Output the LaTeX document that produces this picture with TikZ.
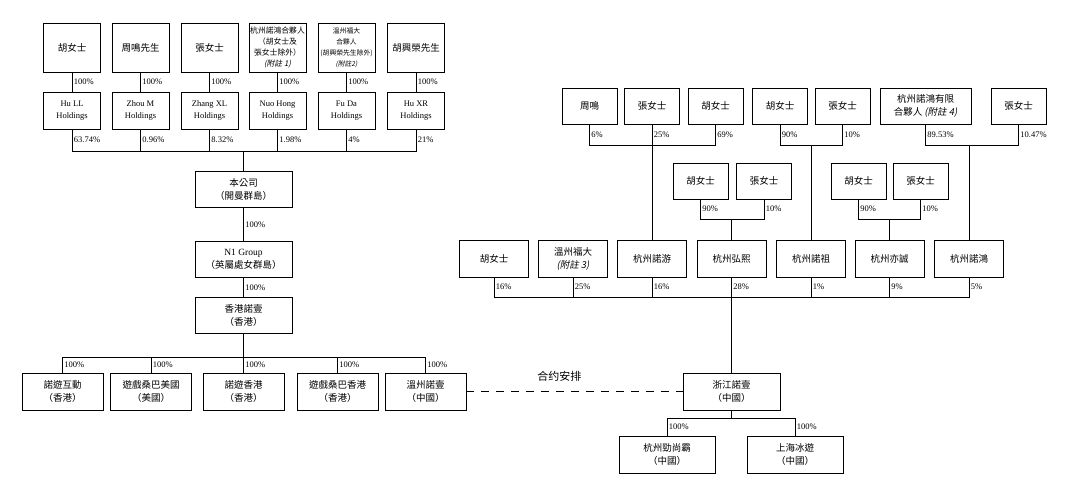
\documentclass[tikz,border=0pt]{standalone}
\usepackage{fontspec}
\setmainfont{Liberation Serif}
\newfontfamily\cjk{Noto Sans CJK TC}
\newfontfamily\cjkit{Noto Sans CJK TC}[FakeSlant=0.2]
\newfontfamily\cjksc{Noto Sans CJK SC}

\begin{document}
\begin{tikzpicture}[x=1pt, y=-1pt, line width=0.8pt,
    box/.style={draw, align=center, inner sep=1pt, font=\cjk\fontsize{9.5}{13}\selectfont},
    topbox/.style={box, minimum width=57pt, minimum height=49pt},
    holdbox/.style={box, minimum width=57pt, minimum height=37pt, font=\rmfamily\fontsize{8.5}{12}\selectfont},
    midbox/.style={box, minimum width=97pt, minimum height=36pt},
    subbox/.style={box, minimum width=81pt, minimum height=37pt},
    rbox/.style={box, minimum width=55pt, minimum height=36pt},
    lowbox/.style={box, minimum width=69pt, minimum height=37pt},
    pct/.style={anchor=west, inner sep=1.5pt, font=\rmfamily\fontsize{8.5}{10}\selectfont}]
    % Fix the page to the size of the reference (1067 x 489)
    \useasboundingbox (0,0) rectangle (1067,489);

    % Left tree: owners and their holding companies
    \node[topbox] (huF) at (72,47.5) {胡女士};
    \node[topbox] (zhouM) at (140.5,47.5) {周鳴先生};
    \node[topbox] (zhangF) at (209.5,47.5) {張女士};
    \node[topbox, font=\cjk\fontsize{7.8}{11}\selectfont] (nhLP) at (277.5,47.5) {杭州諾鴻合夥人\\（胡女士及\\張女士除外）\\{\cjkit (附註 1)}};
    \node[topbox, font=\cjk\fontsize{6.8}{11}\selectfont] (fdLP) at (346.5,47.5) {溫州福大\\合夥人\\(胡興榮先生除外)\\{\cjkit (附註2)}};
    \node[topbox] (huXR) at (416,47.5) {胡興榮先生};

    \node[holdbox] (hHu) at (72,110.5) {Hu LL\\Holdings};
    \node[holdbox] (hZhou) at (140.5,110.5) {Zhou M\\Holdings};
    \node[holdbox] (hZhang) at (209.5,110.5) {Zhang XL\\Holdings};
    \node[holdbox] (hNuo) at (277.5,110.5) {Nuo Hong\\Holdings};
    \node[holdbox] (hFu) at (346.5,110.5) {Fu Da\\Holdings};
    \node[holdbox] (hHuXR) at (416,110.5) {Hu XR\\Holdings};

    \foreach \a/\b in {huF/hHu, zhouM/hZhou, zhangF/hZhang, nhLP/hNuo, fdLP/hFu, huXR/hHuXR}
        \draw (\a) -- node[pct]{100\%} (\b);

    % Company and its chain
    \node[midbox] (company) at (243.5,189.5) {本公司\\（開曼群島）};
    \node[midbox] (nOne) at (243.5,259) {{\rmfamily N1 Group}\\（英屬處女群島）};
    \node[midbox] (hkNuo) at (243.5,315.5) {香港諾壹\\（香港）};

    \coordinate (busA) at (243.5,151);
    \foreach \n/\p in {hHu/63.74, hZhou/0.96, hZhang/8.32, hNuo/1.98, hFu/4, hHuXR/21}
        \draw (\n) |- node[pos=0.25,pct]{\p\%} (busA);
    \draw (busA) -- (company);
    \draw (company) -- node[pct]{100\%} (nOne);
    \draw (nOne) -- node[pct]{100\%} (hkNuo);

    % Subsidiaries
    \node[subbox] (nyHD) at (62.5,391.5) {諾遊互動\\（香港）};
    \node[subbox] (ysUS) at (151,391.5) {遊戲桑巴美國\\（美國）};
    \node[subbox] (nyHK) at (243.5,391.5) {諾遊香港\\（香港）};
    \node[subbox] (ysHK) at (337.5,391.5) {遊戲桑巴香港\\（香港）};
    \node[subbox] (wzNuo) at (425.5,391.5) {溫州諾壹\\（中國）};

    \coordinate (busB) at (243.5,357);
    \draw (hkNuo) -- (busB);
    \foreach \n in {nyHD, ysUS, nyHK, ysHK, wzNuo}
        \draw (busB) -| node[pos=0.75,pct]{100\%} (\n);

    % Right tree: shareholders of the domestic companies
    \node[rbox] (zhouR) at (589.5,106) {周鳴};
    \node[rbox] (zhangR1) at (652,106) {張女士};
    \node[rbox] (huR1) at (715.5,106) {胡女士};
    \node[rbox] (huR2) at (780,106) {胡女士};
    \node[rbox] (zhangR2) at (842.5,106) {張女士};
    \node[rbox, minimum width=91pt] (nhLPR) at (925.5,106) {杭州諾鴻有限\\合夥人 {\cjkit (附註 4)}};
    \node[rbox] (zhangR3) at (1018.5,106) {張女士};

    \node[rbox] (huR3) at (700.5,181) {胡女士};
    \node[rbox] (zhangR4) at (764,181) {張女士};
    \node[rbox] (huR4) at (858.5,181) {胡女士};
    \node[rbox] (zhangR5) at (920.5,181) {張女士};

    \node[lowbox] (huL) at (494,258.5) {胡女士};
    \node[lowbox] (fdL) at (573,258.5) {溫州福大\\{\cjkit (附註 3)}};
    \node[lowbox] (nuoYou) at (652,258.5) {杭州諾游};
    \node[lowbox] (hongXi) at (731.5,258.5) {杭州弘熙};
    \node[lowbox] (nuoZu) at (811,258.5) {杭州諾祖};
    \node[lowbox] (yiCheng) at (889.5,258.5) {杭州亦誠};
    \node[lowbox] (nuoHong) at (969,258.5) {杭州諾鴻};

    \coordinate (busC1) at (652,145);
    \coordinate (busC2) at (811,145);
    \coordinate (busC3) at (969,145);
    \foreach \n/\p in {zhouR/6, zhangR1/25, huR1/69}
        \draw (\n) |- node[pos=0.25,pct]{\p\%} (busC1);
    \foreach \n/\p in {huR2/90, zhangR2/10}
        \draw (\n) |- node[pos=0.25,pct]{\p\%} (busC2);
    \foreach \n/\p in {nhLPR/89.53, zhangR3/10.47}
        \draw (\n) |- node[pos=0.25,pct]{\p\%} (busC3);
    \draw (busC1) -- (nuoYou);
    \draw (busC2) -- (nuoZu);
    \draw (busC3) -- (nuoHong);

    \coordinate (busD1) at (731.5,219);
    \coordinate (busD2) at (889.5,219);
    \foreach \n/\p in {huR3/90, zhangR4/10}
        \draw (\n) |- node[pos=0.25,pct]{\p\%} (busD1);
    \foreach \n/\p in {huR4/90, zhangR5/10}
        \draw (\n) |- node[pos=0.25,pct]{\p\%} (busD2);
    \draw (busD1) -- (hongXi);
    \draw (busD2) -- (yiCheng);

    % Domestic operating company
    \node[midbox, minimum height=37pt] (zjNuo) at (731.5,391.5) {浙江諾壹\\（中國）};
    \coordinate (busE) at (731.5,297);
    \foreach \n/\p in {huL/16, fdL/25, nuoYou/16, hongXi/28, nuoZu/1, yiCheng/9, nuoHong/5}
        \draw (\n) |- node[pos=0.25,pct]{\p\%} (busE);
    \draw (busE) -- (zjNuo);

    % Contractual arrangements
    \draw[dash pattern=on 8pt off 7pt] (wzNuo) -- node[pos=0.43, above=6pt, font=\cjksc\fontsize{11}{13}\selectfont]{合约安排} (zjNuo);

    \node[midbox, minimum width=96pt, minimum height=37pt] (jsBa) at (667,454.5) {杭州勁尚霸\\（中國）};
    \node[midbox, minimum width=96pt, minimum height=37pt] (shBing) at (795,454.5) {上海冰遊\\（中國）};
    \coordinate (busF) at (731.5,418);
    \draw (zjNuo) -- (busF);
    \foreach \n in {jsBa, shBing}
        \draw (busF) -| node[pos=0.75,pct]{100\%} (\n);
\end{tikzpicture}
\end{document}
